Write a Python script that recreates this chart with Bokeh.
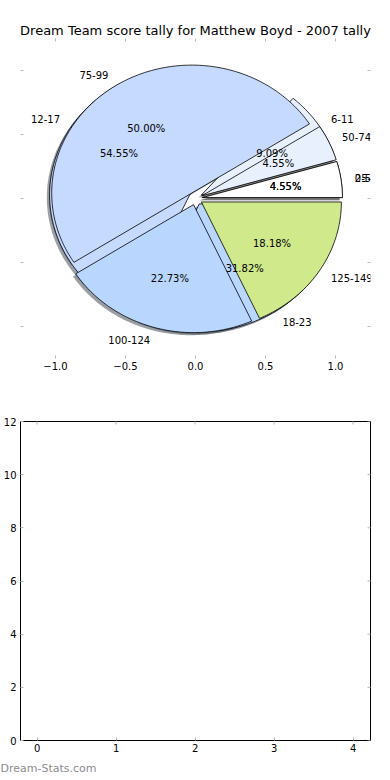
import numpy as np
from bokeh.plotting import figure
from bokeh.models import ColumnDataSource, LabelSet, Title, LinearAxis, FixedTicker, Range1d
from bokeh.layouts import column
from bokeh.embed import file_html
from bokeh.resources import INLINE
from bokeh.core.properties import value

# ---------------- data ----------------
title_text = "Dream Team score tally for Matthew Boyd - 2007 tally"
under_labels = ["0-5", "6-11", "12-17", "18-23"]
under_counts = [1, 2, 12, 7]
under_colors = ["#ffffff", "#e9f0fd", "#c6d9fe", "#b9d7fe"]
top_labels = ["25-49", "50-74", "75-99", "100-124", "125-149"]
top_counts = [1, 1, 11, 5, 4]
top_colors = ["#ffffff", "#e9f0fd", "#c6d9fe", "#b9d7fe", "#cfe98b"]
pie_ticks = [-1.0, -0.5, 0.0, 0.5, 1.0]
bar_xticks = [0, 1, 2, 3, 4]
bar_yticks = [0, 2, 4, 6, 8, 10, 12]
watermark = "Dream-Stats.com"

EXPLODE = 0.05
SHADOW = 0.02
FONT = "DejaVu Sans"
TICK_GREY = "#b8b8b8"


def shade(hexcol):
    r, g, b = (int(hexcol[i:i + 2], 16) for i in (1, 3, 5))
    return "#%02x%02x%02x" % (int(r * 0.3), int(g * 0.3), int(b * 0.3))


def pie_geom(counts, colors, labels):
    fr = np.array(counts, float) / sum(counts)
    bounds = np.concatenate([[0.0], np.cumsum(fr)]) * 2 * np.pi
    w = dict(xs=[], ys=[], fill=[])
    s = dict(xs=[], ys=[], fill=[])
    lab_l = dict(x=[], y=[], text=[])
    lab_r = dict(x=[], y=[], text=[])
    pct = dict(x=[], y=[], text=[])
    for i in range(len(counts)):
        t1, t2 = bounds[i], bounds[i + 1]
        tm = 0.5 * (t1 + t2)
        cx, cy = EXPLODE * np.cos(tm), EXPLODE * np.sin(tm)
        n = max(int(np.degrees(t2 - t1)), 2) + 1
        t = np.linspace(t1, t2, n)
        px = [cx] + list(cx + np.cos(t)) + [cx]
        py = [cy] + list(cy + np.sin(t)) + [cy]
        w["xs"].append(px); w["ys"].append(py); w["fill"].append(colors[i])
        s["xs"].append([v - SHADOW for v in px]); s["ys"].append([v - SHADOW for v in py])
        s["fill"].append(shade(colors[i]))
        lx = cx + 1.1 * np.cos(tm)
        d = lab_l if lx > 0 else lab_r
        d["x"].append(lx); d["y"].append(cy + 1.1 * np.sin(tm)); d["text"].append(labels[i])
        pct["x"].append(cx + 0.6 * np.cos(tm)); pct["y"].append(cy + 0.6 * np.sin(tm))
        pct["text"].append("%.2f%%" % (100 * fr[i]))
    return w, s, lab_l, lab_r, pct


def fmt(t):
    return ("%.1f" % t).replace("-", "\u2212")


def style_axis(ax, ticks, labels=True, standoff=3):
    ax.major_tick_in = 3
    ax.major_tick_out = 0
    ax.minor_tick_in = 0
    ax.minor_tick_out = 0
    ax.major_tick_line_color = TICK_GREY
    ax.major_tick_line_width = 1
    ax.major_label_text_font = FONT
    ax.major_label_text_font_size = "10px"
    ax.major_label_text_color = "black"
    ax.axis_line_color = None
    ax.major_label_standoff = standoff
    if not labels:
        ax.major_label_overrides = {t: "" for t in ticks}
        ax.major_label_standoff = 0


def mirror_ticks(p, xticks, yticks):
    # top and right tick marks: dashes centred on the frame edge, half clipped away
    p.scatter(x=xticks, y=[p.y_range.end] * len(xticks), marker="dash", size=6,
              angle=np.pi / 2, line_color=TICK_GREY, line_width=1)
    p.scatter(x=[p.x_range.end] * len(yticks), y=yticks, marker="dash", size=6,
              line_color=TICK_GREY, line_width=1)


# ---------------- pie figure ----------------
p1 = figure(width=390, height=390, output_backend="svg", toolbar_location=None,
            x_range=Range1d(-1.25, 1.25), y_range=Range1d(-1.25, 1.25),
            x_axis_location=None, y_axis_location=None,
            min_border_left=20, min_border_right=20, min_border_top=38, min_border_bottom=32)
p1.outline_line_color = None
p1.grid.visible = False
p1.title.text = title_text
p1.title.align = "center"
p1.title.text_font = FONT
p1.title.text_font_size = "13px"
p1.title.text_font_style = "normal"
p1.title.text_color = "black"
p1.title.standoff = 1

xb = LinearAxis(ticker=FixedTicker(ticks=pie_ticks))
style_axis(xb, pie_ticks, labels=True, standoff=3)
xb.major_label_overrides = {t: fmt(t) for t in pie_ticks}
p1.add_layout(xb, "below")
yl = LinearAxis(ticker=FixedTicker(ticks=pie_ticks))
style_axis(yl, pie_ticks, labels=False)
p1.add_layout(yl, "left")
mirror_ticks(p1, pie_ticks, pie_ticks)

ysrc = ColumnDataSource(dict(y=pie_ticks, text=[fmt(t) for t in pie_ticks]))
p1.add_layout(LabelSet(x=-4, y="y", x_units="screen", text="text", source=ysrc,
                       text_align="right", text_baseline="middle",
                       text_font=value(FONT), text_font_size="10px", text_color="black"))

uw, us, ul_l, ul_r, up = pie_geom(under_counts, under_colors, under_labels)
tw, ts, tl_l, tl_r, tp = pie_geom(top_counts, top_colors, top_labels)

for s in (us, ts):
    p1.patches("xs", "ys", source=ColumnDataSource(s), fill_color="fill",
               fill_alpha=0.5, line_color=None)
for w in (uw, tw):
    p1.patches("xs", "ys", source=ColumnDataSource(w), fill_color="fill",
               line_color="black", line_width=0.8)
for lab_l, lab_r, pct in ((ul_l, ul_r, up), (tl_l, tl_r, tp)):
    for d, al in ((lab_l, "left"), (lab_r, "right")):
        p1.add_layout(LabelSet(x="x", y="y", text="text", source=ColumnDataSource(d),
                               text_align=al, text_baseline="middle",
                               text_font=value(FONT), text_font_size="10px",
                               text_color="black"))
    p1.text("x", "y", text="text", source=ColumnDataSource(pct), text_align="center",
            text_baseline="middle", text_font=value(FONT), text_font_size="10px",
            text_color="black")

# ---------------- empty bar figure ----------------
p2 = figure(width=390, height=390, output_backend="svg", toolbar_location=None,
            x_range=Range1d(-0.21, 4.22), y_range=Range1d(0, 12),
            x_axis_location=None, y_axis_location=None,
            min_border_left=20, min_border_right=20, min_border_top=31, min_border_bottom=40)
p2.outline_line_color = "black"
p2.outline_line_width = 1
p2.grid.visible = False

bx = LinearAxis(ticker=FixedTicker(ticks=bar_xticks))
style_axis(bx, bar_xticks, labels=True, standoff=3)
p2.add_layout(bx, "below")
byl = LinearAxis(ticker=FixedTicker(ticks=bar_yticks))
style_axis(byl, bar_yticks, labels=True, standoff=4)
p2.add_layout(byl, "left")
mirror_ticks(p2, bar_xticks, bar_yticks)

p2.add_layout(Title(text=watermark, align="left", offset=-20, standoff=10,
                    text_font=FONT, text_font_size="11px", text_font_style="normal",
                    text_color="#8c8c8c"), "below")

layout = column(p1, p2)
open("out.html", "w").write(file_html(layout, INLINE))
